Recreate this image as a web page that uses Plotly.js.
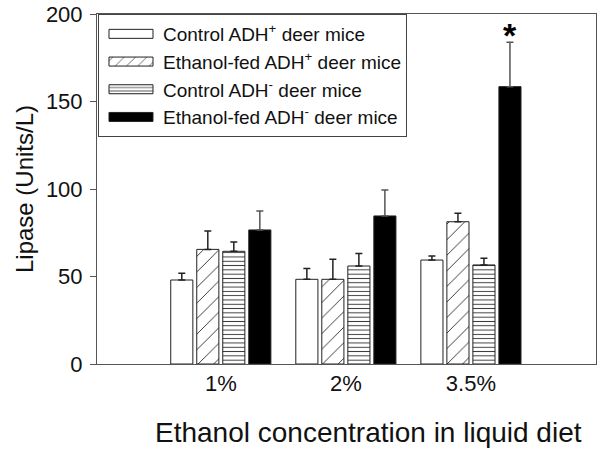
<!DOCTYPE html>
<html>
<head>
<meta charset="utf-8">
<script src="https://cdn.plot.ly/plotly-3.0.1.min.js"></script>
<style>html,body{margin:0;padding:0;background:#fff;}#chart{width:603px;height:453px;}</style>
</head>
<body>
<div id="chart"></div>
<script>
const categories = ["1%", "2%", "3.5%"];
const seriesNames = [
  "Control ADH<sup>+</sup> deer mice",
  "Ethanol-fed ADH<sup>+</sup> deer mice",
  "Control ADH<sup>-</sup> deer mice",
  "Ethanol-fed ADH<sup>-</sup> deer mice"
];
const controlPlus = [48, 48.4, 59.4];
const ethanolPlus = [65.5, 48.4, 81.3];
const controlMinus = [64.4, 56, 56.6];
const ethanolMinus = [76.6, 84.6, 158.5];
const controlPlusErr = [3.8, 6.2, 2.3];
const ethanolPlusErr = [10.5, 11.4, 4.8];
const controlMinusErr = [5.3, 7.2, 3.8];
const ethanolMinusErr = [10.8, 14.8, 25.3];
const yTicks = [0, 50, 100, 150, 200];
const xTitle = "Ethanol concentration in liquid diet";
const yTitle = "Lipase (Units/L)";

const values = [controlPlus, ethanolPlus, controlMinus, ethanolMinus];
const errs = [controlPlusErr, ethanolPlusErr, controlMinusErr, ethanolMinusErr];
const styles = [
  {color: "white", pattern: {shape: ""}, err: "#222"},
  {color: "white", pattern: {shape: "/", fgcolor: "#222", bgcolor: "white", size: 11, solidity: 0.08}, err: "#222"},
  {color: "white", pattern: {shape: "-", fgcolor: "#333", bgcolor: "white", size: 4.3, solidity: 0.22}, err: "#222"},
  {color: "black", pattern: {shape: ""}, err: "#555"}
];

const traces = values.map((v, i) => ({
  type: "bar",
  name: seriesNames[i],
  x: categories,
  y: v,
  marker: {color: styles[i].color, pattern: styles[i].pattern, line: {color: "#222", width: 1}},
  error_y: {type: "data", symmetric: false, array: errs[i], arrayminus: v.map(() => 0),
            color: styles[i].err, thickness: 1.5, width: 3.5},
  hoverinfo: "none"
}));

// significance marker above the Ethanol-fed ADH- bar at 3.5%
const starIdx = 2;
const starY = ethanolMinus[starIdx] + ethanolMinusErr[starIdx] + 4;

const layout = {
  width: 603, height: 453,
  margin: {l: 97, r: 7, t: 14, b: 89},
  paper_bgcolor: "white", plot_bgcolor: "white",
  font: {family: "Liberation Sans, Arial, sans-serif", color: "#111"},
  barmode: "group",
  bargap: 0.168,
  bargroupgap: 0.15,
  showlegend: true,
  legend: {
    x: 0.002, y: 1, xanchor: "left", yanchor: "top",
    bgcolor: "white", bordercolor: "#444", borderwidth: 1,
    font: {size: 19, color: "#111"},
    itemwidth: 54,
    traceorder: "normal"
  },
  xaxis: {
    type: "category",
    range: [-0.99, 3],
    showline: true, linecolor: "#555", linewidth: 1, mirror: true,
    ticks: "", showgrid: false, zeroline: false,
    tickfont: {size: 22, color: "#111"}
  },
  yaxis: {
    range: [0, 200],
    tickvals: yTicks,
    ticktext: yTicks.map(String),
    showline: true, linecolor: "#555", linewidth: 1, mirror: true,
    ticks: "outside", ticklen: 6, tickcolor: "#555",
    ticklabelstandoff: 3,
    showgrid: false, zeroline: false,
    tickfont: {size: 22, color: "#111"},
    title: {text: yTitle, font: {size: 24, color: "#111"}, standoff: 5}
  },
  annotations: [{
    x: starIdx + 0.31, y: starY, xref: "x", yref: "y",
    text: "<b>*</b>", showarrow: false,
    font: {size: 34, color: "#000"}
  }, {
    x: 0.545, y: -0.195, xref: "paper", yref: "paper",
    xanchor: "center", yanchor: "middle",
    text: xTitle, showarrow: false,
    font: {size: 28, color: "#111"}
  }]
};

Plotly.newPlot("chart", traces, layout, {staticPlot: true}).then(gd => {
  // widen the legend swatches to match the reference's rectangular keys
  gd.querySelectorAll(".legend .legendpoints path").forEach(p => {
    p.setAttribute("d", "M22,4.5H-22V-4.5H22Z");
  });
});
</script>
</body>
</html>
